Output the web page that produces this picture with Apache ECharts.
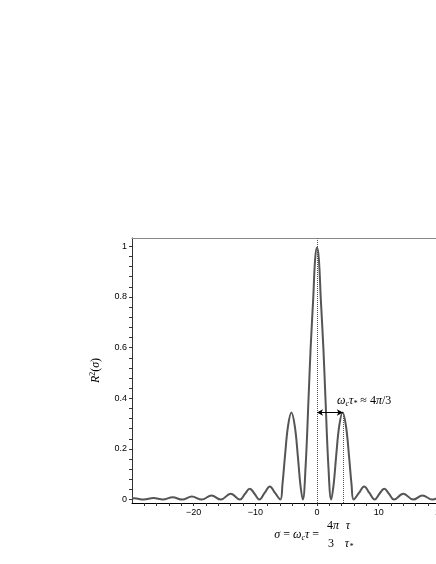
<!DOCTYPE html>
<html>
<head>
<meta charset="utf-8">
<script src="https://cdn.jsdelivr.net/npm/echarts@6/dist/echarts.min.js"></script>
<style>
html,body{margin:0;padding:0;background:#fff;overflow:hidden}
#main{width:520px;height:564px}
</style>
</head>
<body>
<div id="main"></div>
<script>
// sigma values (peaks, zeros and a few shoulder points)
var sigma = [-30, -29.6, -28.1, -26.5, -25.0, -23.4, -21.85, -20.3, -18.7, -17.1, -15.6, -14.0, -12.5,
  -11.7, -10.9, -10.1, -9.35, -8.5, -7.65, -6.8, -5.95, -5.6, -5.2, -4.7, -4.15, -3.6, -3.1, -2.7, -2.3,
  -1.85, -1.37, -1.03, -0.6, -0.3, 0, 0.3, 0.6, 1.03, 1.37, 1.85,
  2.3, 2.7, 3.1, 3.6, 4.15, 4.7, 5.2, 5.6, 5.95, 6.8, 7.65, 8.5, 9.35, 10.1, 10.9, 11.7, 12.5,
  14.0, 15.6, 17.1, 18.7, 20.3, 21.85, 23.4, 25.0, 26.5, 28.1, 29.6, 30];
var r2 = [0.004, 0.005, 0, 0.006, 0, 0.009, 0, 0.012, 0, 0.016, 0, 0.023, 0,
  0.022, 0.043, 0.022, 0, 0.026, 0.052, 0.026, 0, 0.06, 0.17, 0.29, 0.344, 0.29, 0.17, 0.06, 0,
  0.13, 0.4, 0.6, 0.8, 0.95, 0.995, 0.95, 0.8, 0.6, 0.4, 0.13,
  0, 0.06, 0.17, 0.29, 0.344, 0.29, 0.17, 0.06, 0, 0.026, 0.052, 0.026, 0, 0.022, 0.043, 0.022, 0,
  0.023, 0, 0.016, 0, 0.012, 0, 0.009, 0, 0.006, 0, 0.005, 0.004];

var xTickValues = [-28, -26, -24, -22, -20, -18, -16, -14, -12, -10, -8, -6, -4, -2, 0,
  2, 4, 6, 8, 10, 12, 14, 16, 18, 20, 22, 24, 26, 28];
var xLabelValues = [-20, -10, 0, 10, 20];
var yTickValues = [0, 0.04, 0.08, 0.12, 0.16, 0.2, 0.24, 0.28, 0.32, 0.36, 0.4, 0.44, 0.48,
  0.52, 0.56, 0.6, 0.64, 0.68, 0.72, 0.76, 0.8, 0.84, 0.88, 0.92, 0.96, 1];
var yLabelValues = [0, 0.2, 0.4, 0.6, 0.8, 1];

var lobeSigma = 4.19;   // 4*pi/3
var lobeHeight = 0.344;
var yMin = -0.0135, yMax = 1.033;

var serif = '"Liberation Serif", "DejaVu Serif", serif';
var sans = '"Liberation Sans", Arial, sans-serif';
var mathRich = {
  i: {fontFamily: serif, fontStyle: 'italic', fontSize: 12, color: '#000'},
  r: {fontFamily: serif, fontSize: 12, color: '#000'},
  s: {fontFamily: serif, fontStyle: 'italic', fontSize: 8, color: '#000', verticalAlign: 'bottom', padding: [6, 0, 0, 0]},
  sup: {fontFamily: serif, fontSize: 8, color: '#000', padding: [0, 0, 6, 0]}
};

// the plot is wider than the window; the right part is cut off like in the original
var myChart = echarts.init(document.getElementById('main'));
var option = {
  animation: false,
  backgroundColor: '#fff',
  grid: {left: 132, right: 18, top: 238, bottom: 61},
  xAxis: [{
    type: 'value',
    min: -30, max: 30,
    axisLine: {onZero: false, lineStyle: {color: '#000', width: 1}},
    axisTick: {show: true, length: 3, inside: false, customValues: xTickValues, lineStyle: {color: '#333'}},
    axisLabel: {customValues: xLabelValues, margin: 5, fontFamily: sans, fontSize: 9, color: '#000',
      formatter: function (v) { return v < 0 ? '\u2212' + (-v) : '' + v; }},
    splitLine: {show: false}
  }, {
    type: 'value',
    position: 'top',
    min: -30, max: 30,
    axisLine: {show: true, onZero: false, lineStyle: {color: '#888', width: 1}},
    axisTick: {show: false},
    axisLabel: {show: false},
    splitLine: {show: false}
  }],
  yAxis: {
    type: 'value',
    min: yMin, max: yMax,
    name: '{i|R}{sup|2}{r|(}{i|σ}{r|)}',
    nameLocation: 'middle',
    nameRotate: 90,
    nameGap: 29,
    nameTextStyle: {rich: mathRich},
    axisLine: {show: true, onZero: false, lineStyle: {color: '#333', width: 1}},
    axisTick: {show: true, length: 3, customValues: yTickValues, lineStyle: {color: '#333'}},
    axisLabel: {customValues: yLabelValues, margin: 5, fontFamily: sans, fontSize: 9, color: '#000'},
    splitLine: {show: false}
  },
  series: [{
    type: 'line',
    data: sigma.map(function (s, k) { return [s, r2[k]]; }),
    smooth: 0.4,
    showSymbol: false,
    lineStyle: {color: '#555', width: 2},
    silent: true,
    markLine: {
      silent: true,
      animation: false,
      symbol: ['none', 'none'],
      label: {show: false},
      lineStyle: {type: 'dotted', color: '#555', width: 1},
      data: [
        {xAxis: 0},
        [{coord: [lobeSigma, yMin]}, {coord: [lobeSigma, lobeHeight]}],
        [{coord: [0, lobeHeight], symbol: 'arrow', symbolSize: [5, 6], lineStyle: {type: 'solid', color: '#000', width: 1}},
         {coord: [lobeSigma, lobeHeight], symbol: 'arrow', symbolSize: [5, 6]}]
      ]
    }
  }],
  graphic: [
    {type: 'text', x: 337, y: 401, style: {
      text: '{i|ω}{s|c}{i|τ}{s|*}{r| ≈ 4}{i|π}{r|/3}', verticalAlign: 'middle', rich: mathRich}},
    {type: 'text', x: 322, y: 535, style: {
      text: '{i|σ}{r| = }{i|ω}{s|c}{i|τ}{r| = }', align: 'right', verticalAlign: 'middle', rich: mathRich}},
    {type: 'text', x: 333, y: 526, style: {
      text: '{r|4}{i|π}', align: 'center', verticalAlign: 'middle', rich: mathRich}},
    {type: 'text', x: 331, y: 544, style: {
      text: '{r|3}', align: 'center', verticalAlign: 'middle', rich: mathRich}},
    {type: 'text', x: 348, y: 526, style: {
      text: '{i|τ}', align: 'center', verticalAlign: 'middle', rich: mathRich}},
    {type: 'text', x: 349, y: 544, style: {
      text: '{i|τ}{s|*}', align: 'center', verticalAlign: 'middle', rich: mathRich}}
  ]
};
myChart.setOption(option);
</script>
</body>
</html>
